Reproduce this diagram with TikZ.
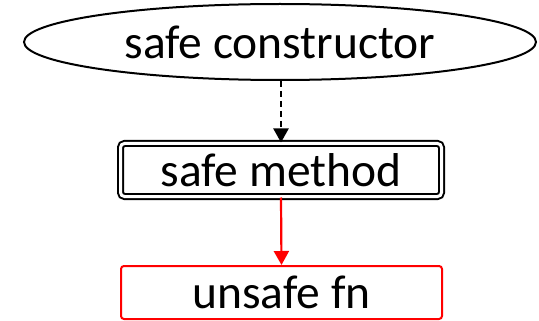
\documentclass[tikz,border=0pt]{standalone}
\usepackage{fontspec}
\setmainfont{Carlito}
\usetikzlibrary{arrows.meta,shapes.geometric}
\begin{document}
\begin{tikzpicture}[x=1pt,y=-1pt,
  every node/.style={font=\fontsize{47.5}{56}\selectfont, inner sep=0pt, align=center},
  ctor/.style={ellipse, draw, line width=2pt, minimum width=512pt, minimum height=76pt},
  safebox/.style={rectangle, draw, double, line width=2pt, double distance=3pt, rounded corners=4pt,
    minimum width=321pt, minimum height=53pt},
  unsafebox/.style={rectangle, draw=red, line width=2pt, rounded corners=3pt,
    minimum width=321pt, minimum height=53pt},
  link/.style={line width=2.2pt, -{Triangle[width=15pt,length=14pt]}}
]
\useasboundingbox (0,0) rectangle (539,321);
\node[ctor] (ctor) at (280,42) {safe constructor};
\node[safebox] (method) at (281,170) {safe method};
\node[unsafebox] (fn) at (281.5,292.5) {unsafe fn};
\draw[link, dash pattern=on 6pt off 4pt] (ctor.south -| method.north) -- (method.north);
\draw[link, red] (method.south) -- (fn.north);
\end{tikzpicture}
\end{document}
